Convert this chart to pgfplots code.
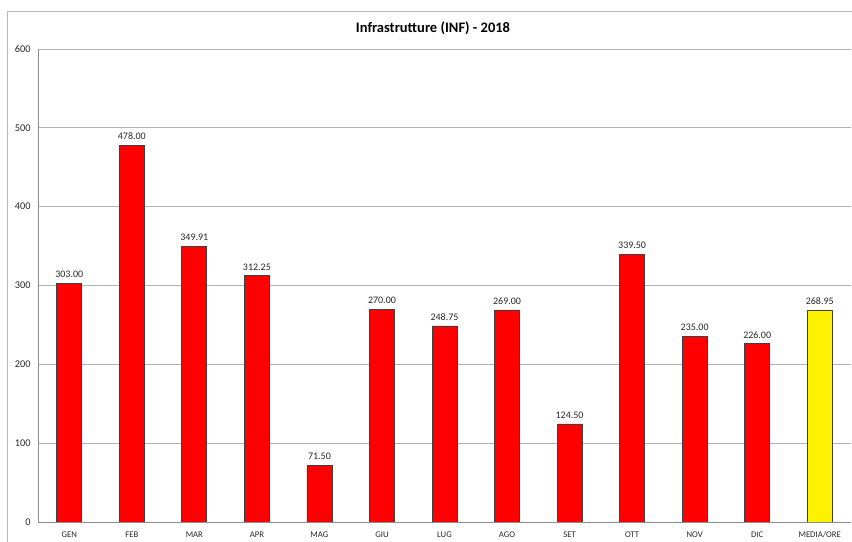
\documentclass[border=0pt]{standalone}
\usepackage{fontspec}
\setmainfont{Carlito}
\usepackage{pgfplots}
\pgfplotsset{compat=1.18}
\begin{document}
\begin{tikzpicture}
\useasboundingbox (0,0) rectangle (852bp,542bp);
% chart frame (cropped at right and bottom)
\draw[black!28, line width=0.9bp] (7bp,0) -- (7bp,531bp) -- (852bp,531bp);
\node[font=\fontsize{14.5bp}{17bp}\selectfont\bfseries] at (433bp,514bp) {Infrastrutture (INF) - 2018};
\begin{axis}[
  at={(38bp,20bp)}, anchor=south west,
  scale only axis, width=813bp, height=473bp,
  ymin=0, ymax=600, ytick={0,100,...,600},
  xmin=-0.5, xmax=12.5,
  xtick={0,...,12},
  xticklabels={GEN,FEB,MAR,APR,MAG,GIU,LUG,AGO,SET,OTT,NOV,DIC,MEDIA/ORE},
  axis lines=left,
  axis line style={-, black!45, line width=0.9bp},
  ymajorgrids, grid style={black!30, line width=0.9bp},
  major tick length=0pt,
  /pgf/number format/assume math mode=true,
  yticklabel style={font=\fontsize{10.3bp}{12bp}\selectfont, text=black!85, xshift=-4bp},
  xticklabel style={font=\fontsize{8.7bp}{10bp}\selectfont, text=black!85, yshift=-6bp},
  ybar, bar shift=0pt, bar width=25bp,
  nodes near coords,
  nodes near coords style={font=\fontsize{10bp}{12bp}\selectfont, text=black!85, yshift=2bp,
    /pgf/number format/.cd, fixed, fixed zerofill, precision=2, assume math mode=true},
]
\addplot[draw=black!75, line width=0.7bp, fill=red] coordinates {
  (0,303.00) (1,478.00) (2,349.91) (3,312.25) (4,71.50) (5,270.00)
  (6,248.75) (7,269.00) (8,124.50) (9,339.50) (10,235.00) (11,226.00)
};
\addplot[draw=black!75, line width=0.7bp, fill=yellow] coordinates {
  (12,268.95)
};
\end{axis}
\end{tikzpicture}
\end{document}
